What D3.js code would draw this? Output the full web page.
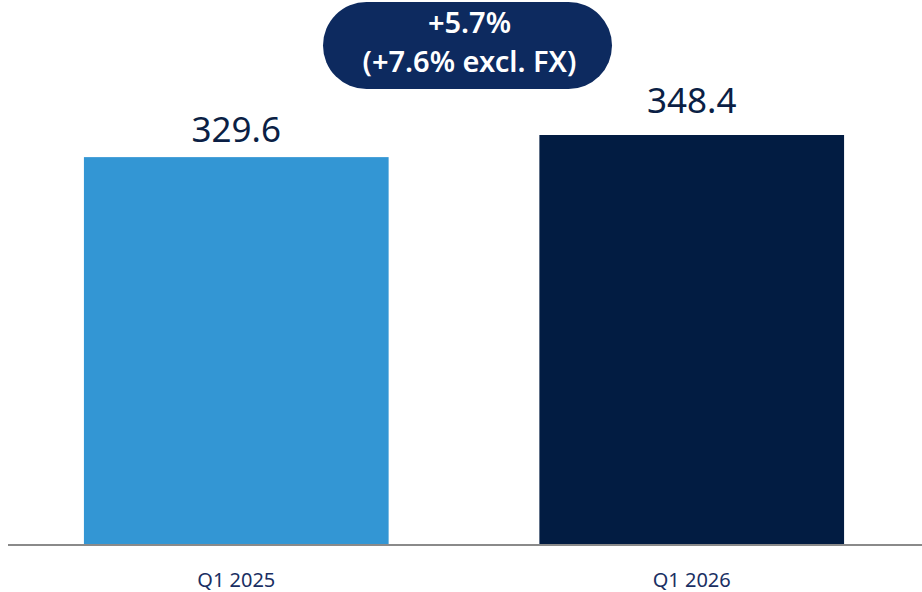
<!DOCTYPE html>
<html>
<head>
<meta charset="utf-8">
<script src="https://cdn.jsdelivr.net/npm/d3@7"></script>
<style>
  html, body { margin: 0; padding: 0; background: #ffffff; }
  svg { display: block; }
</style>
</head>
<body>
<svg id="chart" width="922" height="592"></svg>
<script>
const categories = ["Q1 2025", "Q1 2026"];
const values = [329.6, 348.4];
const valueLabels = ["329.6", "348.4"];
const barColors = ["#3396d4", "#021c42"];
const badgeLines = ["+5.7%", "(+7.6% excl. FX)"];

const svg = d3.select("#chart");
const baseY = 545;
const font = "'Noto Sans', 'Open Sans', sans-serif";
const labelGap = [15, 22];

const x = d3.scaleBand()
  .domain(categories)
  .range([8, 920])
  .paddingInner(0.331)
  .paddingOuter(0.1667);

const y = d3.scaleLinear()
  .domain([0, 348.4])
  .range([baseY, 135]);

svg.selectAll("rect.bar")
  .data(categories)
  .join("rect")
  .attr("class", "bar")
  .attr("x", d => x(d))
  .attr("width", x.bandwidth())
  .attr("y", (d, i) => y(values[i]))
  .attr("height", (d, i) => y(0) - y(values[i]))
  .attr("fill", (d, i) => barColors[i]);

svg.selectAll("text.val")
  .data(categories)
  .join("text")
  .attr("class", "val")
  .attr("x", d => x(d) + x.bandwidth() / 2)
  .attr("y", (d, i) => y(values[i]) - labelGap[i])
  .attr("text-anchor", "middle")
  .attr("font-family", font)
  .attr("font-size", 35)
  .attr("fill", "#0b1f45")
  .text((d, i) => valueLabels[i]);

const axis = svg.append("g")
  .attr("transform", `translate(0,${baseY})`)
  .call(d3.axisBottom(x).tickSize(0).tickPadding(0));
axis.select(".domain").attr("stroke", "#8a8a8a").attr("stroke-width", 2)
  .attr("d", "M8,0H922");
axis.selectAll("text")
  .attr("font-family", font)
  .attr("font-size", 20)
  .attr("fill", "#1a2f63")
  .attr("y", 42)
  .attr("dy", null);

const bx = 323, bw = 289, by = 2, bh = 87;
svg.append("rect")
  .attr("x", bx).attr("y", by)
  .attr("width", bw).attr("height", bh)
  .attr("rx", bh / 2).attr("ry", bh / 2)
  .attr("fill", "#0d2a5f");
svg.selectAll("text.badge")
  .data(badgeLines)
  .join("text")
  .attr("class", "badge")
  .attr("x", bx + bw / 2 + 2)
  .attr("y", (d, i) => 33 + i * 39)
  .attr("text-anchor", "middle")
  .attr("font-family", font)
  .attr("font-weight", 600)
  .attr("font-size", 29)
  .attr("fill", "#ffffff")
  .text(d => d);
</script>
</body>
</html>
